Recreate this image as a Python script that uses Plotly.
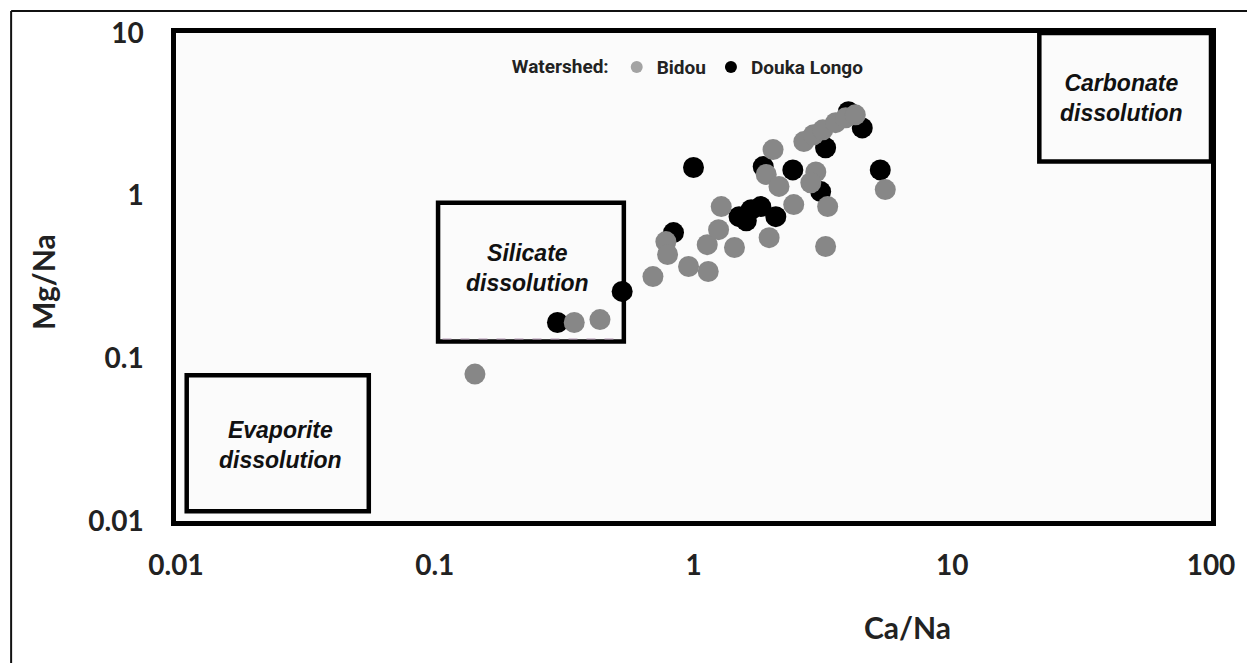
import numpy as np
import plotly.graph_objects as go

# ---------------- data ----------------
bidou_ca_na = [0.143, 0.346, 0.435, 0.697, 0.782, 0.794, 0.957, 1.14, 1.13, 1.25, 1.28, 1.44,
               1.96, 2.03, 1.91, 2.14, 2.44, 2.97, 2.84, 3.30, 3.24, 2.67, 2.91, 3.16, 3.54,
               3.87, 4.22, 5.51]
bidou_mg_na = [0.080, 0.166, 0.173, 0.318, 0.522, 0.435, 0.367, 0.342, 0.500, 0.618, 0.857, 0.480,
               0.552, 1.92, 1.35, 1.14, 0.881, 1.40, 1.20, 0.857, 0.487, 2.15, 2.37, 2.54, 2.81,
               3.01, 3.14, 1.09]

douka_ca_na = [0.298, 0.530, 0.837, 1.00, 1.50, 1.60, 1.67, 1.82, 2.08, 1.86, 2.42, 3.10,
               3.24, 4.49, 3.97, 5.27]
douka_mg_na = [0.166, 0.258, 0.593, 1.49, 0.743, 0.700, 0.820, 0.857, 0.743, 1.51, 1.44, 1.06,
               1.97, 2.61, 3.28, 1.44]

series_names = ["Bidou", "Douka Longo"]
series_colors = ["#878787", "#000000"]

# regions: label, x extent, y extent, label position
region_labels = ["Silicate<br>dissolution", "Carbonate<br>dissolution", "Evaporite<br>dissolution"]
region_x = [(0.103, 0.538), (21.7, 100), (0.0110, 0.0556)]
region_y = [(0.127, 0.906), (1.62, 10), (0.0115, 0.0787)]
label_pos = [(0.229, 0.357), (45.2, 3.99), (0.0253, 0.0292)]

x_ticks = [0.01, 0.1, 1, 10, 100]
x_tick_text = ["0.01", "0.1", "1", "10", "100"]
y_ticks = [0.01, 0.1, 1, 10]
y_tick_text = ["0.01", "0.1", "1", "10"]

fig = go.Figure()

# black first so grey sits on top
fig.add_trace(go.Scatter(x=douka_ca_na, y=douka_mg_na, mode="markers", showlegend=False,
                         marker=dict(size=21, color=series_colors[1], line=dict(width=0))))
fig.add_trace(go.Scatter(x=bidou_ca_na, y=bidou_mg_na, mode="markers", showlegend=False,
                         marker=dict(size=21, color=series_colors[0], line=dict(width=0))))
# legend entries
fig.add_trace(go.Scatter(x=[None], y=[None], mode="markers", name=series_names[0],
                         marker=dict(size=12, color="#a3a3a3")))
fig.add_trace(go.Scatter(x=[None], y=[None], mode="markers", name=series_names[1],
                         marker=dict(size=12, color="#000000")))

shapes = []
for (x0, x1), (y0, y1) in zip(region_x, region_y):
    shapes.append(dict(type="rect", xref="x", yref="y", x0=x0, x1=x1, y0=y0, y1=y1,
                       line=dict(color="#000000", width=4.5), layer="above"))
# faint dashed inner line in silicate box
shapes.append(dict(type="line", xref="x", yref="y", x0=region_x[0][0] * 1.04, x1=region_x[0][1] * 0.97,
                   y0=region_y[0][0] * 1.035, y1=region_y[0][0] * 1.035,
                   line=dict(color="#b59ab5", width=1.2, dash="dash")))
# outer figure frame (left and top)
shapes.append(dict(type="line", xref="paper", yref="paper", x0=-0.1593, x1=1.3, y0=1.045, y1=1.045,
                   line=dict(color="#111111", width=2)))
shapes.append(dict(type="line", xref="paper", yref="paper", x0=-0.1593, x1=-0.1593, y0=1.045, y1=-0.4,
                   line=dict(color="#111111", width=2)))

annotations = []
for txt, (lx, ly) in zip(region_labels, label_pos):
    annotations.append(dict(text=txt, x=np.log10(lx), y=np.log10(ly), xref="x", yref="y",
                            showarrow=False, align="center", xanchor="center", yanchor="middle",
                            font=dict(family="Liberation Sans", size=23, color="#111111",
                                      weight="bold", style="italic")))
annotations.append(dict(text="Ca/Na", x=(912 - 176) / 1042, y=-(627 - 521) / 488, xref="paper",
                        yref="paper", showarrow=False, xanchor="center", yanchor="middle",
                        font=dict(family="Lato", size=30, color="#222222", weight="bold")))
annotations.append(dict(text="Mg/Na", x=(42 - 176) / 1042, y=(521 - 282) / 488, xref="paper",
                        yref="paper", showarrow=False, textangle=-90, xanchor="center",
                        yanchor="middle",
                        font=dict(family="Lato", size=30, color="#222222", weight="bold")))

fig.update_layout(
    width=1247, height=663,
    margin=dict(l=176, r=29, t=33, b=142),
    paper_bgcolor="white", plot_bgcolor="#fbfbfb",
    shapes=shapes, annotations=annotations,
    legend=dict(orientation="h", x=0.496, y=0.930, xanchor="center", yanchor="middle",
                bgcolor="rgba(0,0,0,0)", itemwidth=30,
                title=dict(text="Watershed:", font=dict(family="Roboto", size=19, color="#222222",
                                                      weight="bold")),
                font=dict(family="Roboto", size=19, color="#222222", weight="bold")),
    xaxis=dict(type="log", range=[-2, 2], tickvals=x_ticks, ticktext=x_tick_text,
               showgrid=False, zeroline=False, showline=True, mirror=True, linecolor="black",
               linewidth=4.5, ticks="", ticklabelstandoff=16,
               tickfont=dict(family="Lato", size=28, color="#222222", weight="bold")),
    yaxis=dict(type="log", range=[-2, 1], tickvals=y_ticks, ticktext=y_tick_text,
               showgrid=False, zeroline=False, showline=True, mirror=True, linecolor="black",
               linewidth=4.5, ticks="", ticklabelstandoff=22,
               tickfont=dict(family="Lato", size=28, color="#222222", weight="bold")),
)

fig.write_html("out.html")
